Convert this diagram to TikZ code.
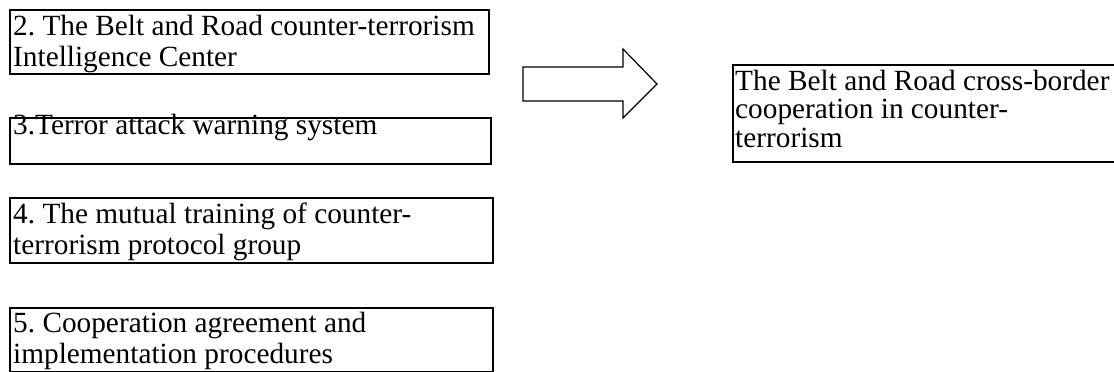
\documentclass[tikz,border=0pt]{standalone}
\usepackage{fontspec}
\setmainfont{Liberation Serif}
\frenchspacing
\begin{document}
\begin{tikzpicture}[x=1pt,y=-1pt,
  box/.style={draw=black,line width=1.8pt,inner sep=0pt,anchor=north west},
  txt/.style={inner sep=0pt,anchor=base west,align=left,
    font=\frenchspacing\fontsize{29.3pt}{31pt}\selectfont},
  txtr/.style={txt,font=\frenchspacing\fontsize{29.3pt}{28.5pt}\selectfont},
  bigarrow/.style={draw=black,line width=1.2pt,fill=white,line join=miter}]
\useasboundingbox (0,0) rectangle (1114,372);
% left boxes
\node[box,minimum width=479pt,minimum height=64pt] (b1) at (9,9) {};
\node[box,minimum width=481pt,minimum height=46pt] (b2) at (9,117) {};
\node[box,minimum width=483pt,minimum height=65pt] (b3) at (9,197) {};
\node[box,minimum width=483pt,minimum height=64pt] (b4) at (9,307) {};
% (base anchor = baseline of the last line)
\node[txt] (t1) at (13,66) {2. The Belt and Road counter-terrorism\\Intelligence Center};
\node[txt] (t2) at (13,134) {3.Terror attack warning system};
\node[txt] (t3) at (13,254) {4. The mutual training of counter-\\terrorism protocol group};
\node[txt] (t4) at (13,363) {5. Cooperation agreement and\\implementation procedures};
% right box
\node[box,minimum width=420pt,minimum height=97pt] (r) at (732,64) {};
\node[txtr] (tr) at (735,147) {The Belt and Road cross-border\\cooperation in counter-\\terrorism};
% block arrow
\draw[bigarrow] (523,67) -- (623,67) -- (623,49) -- (657,84) -- (623,118) -- (623,101) -- (523,101) -- cycle;
\end{tikzpicture}
\end{document}
